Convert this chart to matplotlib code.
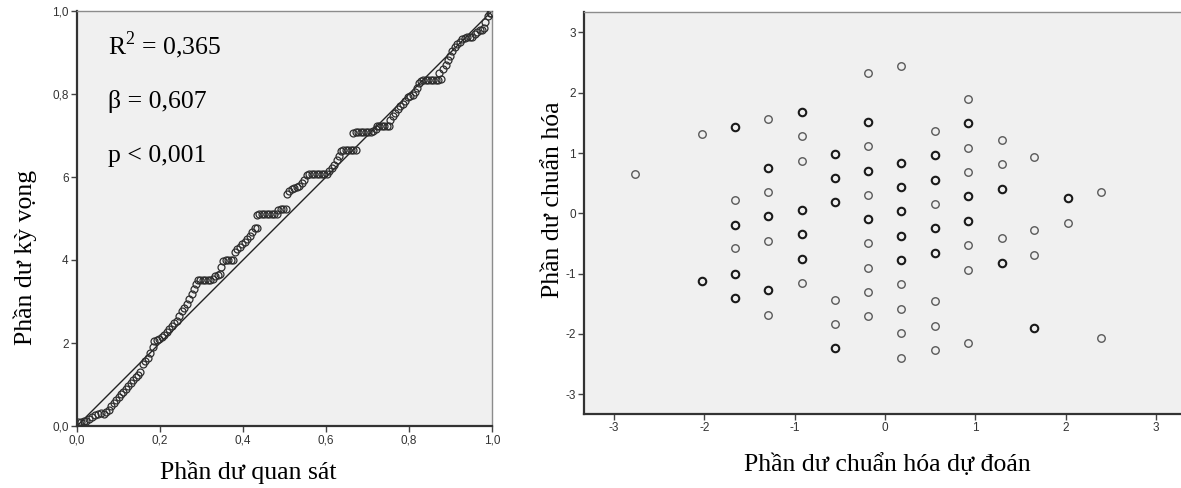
import matplotlib
matplotlib.use("Agg")
import matplotlib.pyplot as plt

# --- Biểu đồ P-P: phần dư quan sát (x) và kỳ vọng (y) ---
obs_x = [0.003, 0.010, 0.016, 0.022, 0.030, 0.037, 0.043, 0.050, 0.057, 0.064,
         0.070, 0.076, 0.082, 0.088, 0.094, 0.100, 0.106, 0.112, 0.118, 0.124,
         0.130, 0.136, 0.142, 0.148, 0.153, 0.158, 0.164, 0.170, 0.176, 0.182,
         0.186, 0.192, 0.198, 0.204, 0.210, 0.216, 0.222, 0.228, 0.234, 0.240,
         0.246, 0.252, 0.258, 0.264, 0.270, 0.276, 0.282, 0.287, 0.291, 0.297,
         0.303, 0.309, 0.315, 0.321, 0.327, 0.333, 0.339, 0.345, 0.346, 0.352,
         0.358, 0.364, 0.370, 0.376, 0.380, 0.386, 0.392, 0.398, 0.404, 0.410,
         0.416, 0.422, 0.428, 0.434, 0.433, 0.439, 0.445, 0.451, 0.457, 0.463,
         0.469, 0.475, 0.481, 0.485, 0.491, 0.497, 0.503, 0.506, 0.512, 0.518,
         0.524, 0.530, 0.536, 0.542, 0.548, 0.554, 0.560, 0.566, 0.572, 0.578,
         0.584, 0.590, 0.596, 0.602, 0.608, 0.614, 0.620, 0.626, 0.632, 0.636,
         0.642, 0.648, 0.654, 0.660, 0.666, 0.672, 0.666, 0.672, 0.678, 0.684,
         0.690, 0.696, 0.702, 0.708, 0.714, 0.720, 0.722, 0.728, 0.734, 0.740,
         0.746, 0.752, 0.755, 0.761, 0.767, 0.773, 0.779, 0.785, 0.791, 0.797,
         0.803, 0.809, 0.815, 0.820, 0.823, 0.828, 0.834, 0.840, 0.846, 0.852,
         0.858, 0.864, 0.870, 0.876, 0.872, 0.882, 0.888, 0.894, 0.900, 0.904,
         0.910, 0.916, 0.922, 0.928, 0.934, 0.940, 0.946, 0.952, 0.958, 0.964,
         0.970, 0.976, 0.980, 0.984, 0.990, 0.995, 0.998]
exp_y = [0.010, 0.010, 0.012, 0.012, 0.016, 0.022, 0.027, 0.030, 0.031, 0.030,
         0.033, 0.039, 0.047, 0.055, 0.062, 0.070, 0.077, 0.082, 0.088, 0.097,
         0.104, 0.110, 0.118, 0.124, 0.130, 0.150, 0.157, 0.163, 0.175, 0.190,
         0.205, 0.208, 0.210, 0.214, 0.220, 0.226, 0.233, 0.240, 0.247, 0.254,
         0.265, 0.276, 0.285, 0.295, 0.306, 0.318, 0.330, 0.343, 0.352, 0.352,
         0.352, 0.352, 0.352, 0.352, 0.355, 0.362, 0.364, 0.366, 0.384, 0.398,
         0.400, 0.400, 0.400, 0.400, 0.420, 0.426, 0.432, 0.438, 0.444, 0.450,
         0.458, 0.468, 0.476, 0.478, 0.509, 0.510, 0.511, 0.511, 0.511, 0.511,
         0.511, 0.511, 0.511, 0.521, 0.523, 0.523, 0.523, 0.558, 0.566, 0.571,
         0.573, 0.575, 0.578, 0.586, 0.592, 0.606, 0.608, 0.608, 0.608, 0.608,
         0.608, 0.608, 0.608, 0.608, 0.615, 0.622, 0.630, 0.640, 0.650, 0.662,
         0.664, 0.664, 0.664, 0.664, 0.665, 0.666, 0.707, 0.709, 0.709, 0.709,
         0.709, 0.709, 0.709, 0.709, 0.712, 0.716, 0.722, 0.722, 0.722, 0.722,
         0.722, 0.724, 0.738, 0.747, 0.755, 0.763, 0.770, 0.776, 0.782, 0.792,
         0.795, 0.797, 0.806, 0.815, 0.826, 0.832, 0.833, 0.833, 0.833, 0.833,
         0.833, 0.833, 0.833, 0.836, 0.850, 0.860, 0.870, 0.882, 0.892, 0.904,
         0.914, 0.920, 0.926, 0.932, 0.936, 0.938, 0.938, 0.938, 0.944, 0.950,
         0.954, 0.954, 0.958, 0.974, 0.988, 0.994, 0.996]

pp_ticks = [0.0, 0.2, 0.4, 0.6, 0.8, 1.0]
pp_xlabels = ["0,0", "0,2", "0,4", "0,6", "0,8", "1,0"]
pp_ylabels = ["0,0", "2", "4", "6", "0,8", "1,0"]
stats_text = ["R$^{2}$ = 0,365", "β = 0,607", "p < 0,001"]

# --- Biểu đồ phân tán: giá trị dự đoán chuẩn hóa và phần dư chuẩn hóa ---
# n = số quan sát trùng nhau tại cùng một điểm
pred_x = [-2.77,
          -2.03, -2.03,
          -1.66, -1.66, -1.66, -1.66, -1.66, -1.66,
          -1.30, -1.30, -1.30, -1.30, -1.30, -1.30, -1.30,
          -0.92, -0.92, -0.92, -0.92, -0.92, -0.92, -0.92,
          -0.55, -0.55, -0.55, -0.55, -0.55, -0.55,
          -0.19, -0.19, -0.19, -0.19, -0.19, -0.19, -0.19, -0.19, -0.19, -0.19,
          0.18, 0.18, 0.18, 0.18, 0.18, 0.18, 0.18, 0.18, 0.18, 0.18,
          0.55, 0.55, 0.55, 0.55, 0.55, 0.55, 0.55, 0.55, 0.55,
          0.92, 0.92, 0.92, 0.92, 0.92, 0.92, 0.92, 0.92, 0.92,
          1.30, 1.30, 1.30, 1.30, 1.30,
          1.65, 1.65, 1.65, 1.65,
          2.03, 2.03,
          2.39, 2.39]
resid_y = [0.66,
           1.31, -1.12,
           1.43, 0.22, -0.19, -0.58, -1.00, -1.40,
           1.56, 0.75, 0.35, -0.05, -0.46, -1.28, -1.68,
           1.68, 1.28, 0.86, 0.06, -0.34, -0.75, -1.16,
           0.99, 0.59, 0.19, -1.44, -1.84, -2.24,
           2.33, 1.52, 1.12, 0.71, 0.31, -0.09, -0.50, -0.91, -1.31, -1.71,
           2.45, 0.84, 0.43, 0.03, -0.38, -0.78, -1.18, -1.59, -1.99, -2.40,
           1.36, 0.96, 0.56, 0.15, -0.25, -0.66, -1.46, -1.87, -2.27,
           1.89, 1.49, 1.08, 0.68, 0.28, -0.13, -0.53, -0.94, -2.16,
           1.21, 0.81, 0.40, -0.41, -0.82,
           0.93, -0.28, -0.70, -1.91,
           0.25, -0.16,
           0.36, -2.07]
n_cases = [1,
           1, 2,
           2, 1, 2, 1, 2, 2,
           1, 2, 1, 2, 1, 2, 1,
           2, 1, 1, 2, 2, 2, 1,
           2, 2, 2, 1, 1, 2,
           1, 2, 1, 2, 1, 2, 1, 1, 1, 1,
           1, 2, 2, 2, 2, 2, 1, 1, 1, 1,
           1, 2, 2, 1, 2, 2, 1, 1, 1,
           1, 2, 1, 1, 2, 2, 1, 1, 1,
           1, 1, 2, 1, 2,
           1, 1, 1, 2,
           2, 1,
           1, 1]
sc_ticks = [-3, -2, -1, 0, 1, 2, 3]

plt.rcParams['mathtext.fontset'] = 'custom'
plt.rcParams['mathtext.rm'] = 'Liberation Serif'

serif = "Liberation Serif"
sans = "Liberation Sans"
W, H = 1181, 488

fig = plt.figure(figsize=(W / 100, H / 100), dpi=100)


def style_axes(ax):
    ax.set_facecolor('#f0f0f0')
    for side in ['left', 'bottom']:
        ax.spines[side].set_color('#333333')
        ax.spines[side].set_linewidth(1.6)
    for side in ['top', 'right']:
        ax.spines[side].set_color('#8c8c8c')
        ax.spines[side].set_linewidth(1.0)
    ax.tick_params(direction='out', length=4, width=1, color='#444444',
                   labelsize=8.5, labelcolor='#333333', pad=2)
    for lab in ax.get_xticklabels() + ax.get_yticklabels():
        lab.set_fontfamily(sans)


# Bên trái: P-P plot
ax1 = fig.add_axes([77 / W, 1 - 426 / H, 415 / W, 415 / H])
ax1.plot([0, 1], [0, 1], color='#222222', lw=1.0, zorder=2)
ax1.plot(obs_x, exp_y, 'o', ms=5.0, mfc='none', mec='#2e2e2e', mew=0.9, zorder=3)
ax1.set_xlim(0, 1)
ax1.set_ylim(0, 1)
ax1.set_xticks(pp_ticks)
ax1.set_xticklabels(pp_xlabels)
ax1.set_yticks(pp_ticks)
ax1.set_yticklabels(pp_ylabels)
style_axes(ax1)

for txt, yy in zip(stats_text, [0.896, 0.766, 0.636]):
    ax1.text(0.075, yy, txt, transform=ax1.transAxes, fontsize=18.5,
             family=serif, va='baseline', ha='left')

fig.text(248 / W, 1 - 472 / H, "Phần dư quan sát", fontsize=18.5, family=serif,
         ha='center', va='center')
fig.text(25 / W, 1 - 257 / H, "Phần dư kỳ vọng", fontsize=18.5, family=serif,
         ha='center', va='center', rotation=90)

# Bên phải: scatter phần dư
ax2 = fig.add_axes([584 / W, 1 - 414 / H, (W - 584) / W, 402 / H])
single_x = [x for x, n in zip(pred_x, n_cases) if n == 1]
single_y = [y for y, n in zip(resid_y, n_cases) if n == 1]
multi_x = [x for x, n in zip(pred_x, n_cases) if n > 1]
multi_y = [y for y, n in zip(resid_y, n_cases) if n > 1]
ax2.plot(single_x, single_y, 'o', ms=5.4, mfc='none', mec='#5a5a5a', mew=1.0)
ax2.plot(multi_x, multi_y, 'o', ms=5.4, mfc='none', mec='#1a1a1a', mew=1.5)
ax2.set_xlim(-3.333, 3.278)
ax2.set_ylim(-3.33, 3.34)
ax2.set_xticks(sc_ticks)
ax2.set_xticklabels([str(t) for t in sc_ticks])
ax2.set_yticks(sc_ticks)
ax2.set_yticklabels([str(t) for t in sc_ticks])
style_axes(ax2)
ax2.spines['right'].set_visible(False)

fig.text(887 / W, 1 - 465 / H, "Phần dư chuẩn hóa dự đoán", fontsize=18.5,
         family=serif, ha='center', va='center')
fig.text(553 / W, 1 - 200 / H, "Phần dư chuẩn hóa", fontsize=18.5, family=serif,
         ha='center', va='center', rotation=90)

fig.savefig("out.png", dpi=100)
